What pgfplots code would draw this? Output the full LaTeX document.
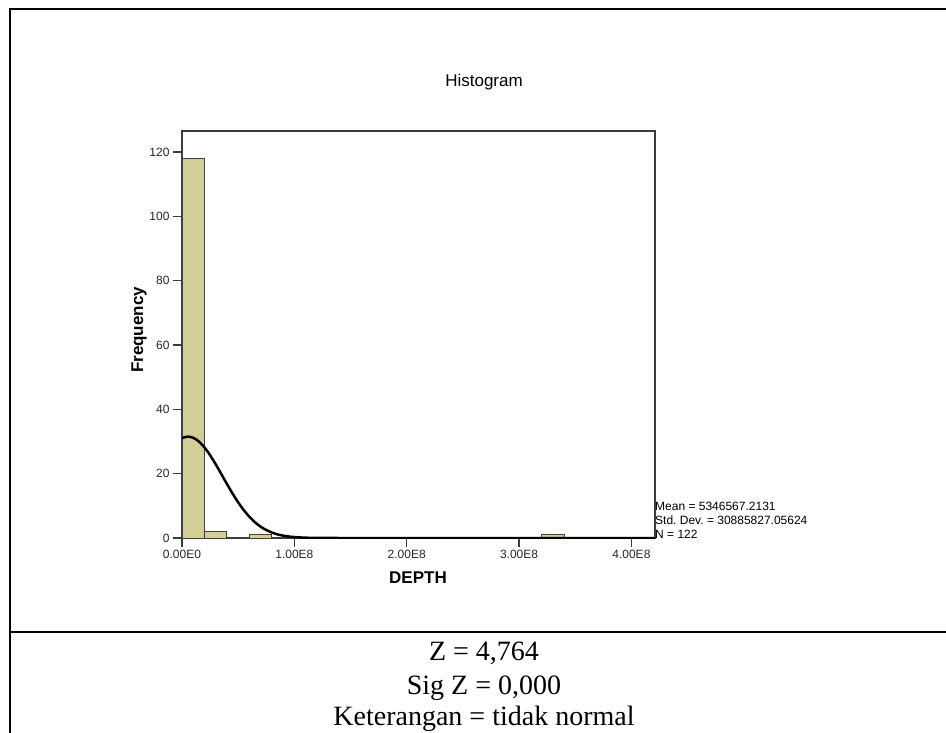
\documentclass[border=0pt]{standalone}
\usepackage{fontspec}
\setmainfont{Liberation Sans}
\newfontfamily\timesfont{Liberation Serif}
\usepackage{pgfplots}
\pgfplotsset{compat=1.18}
\definecolor{barcol}{RGB}{211,206,151}
\definecolor{axiscol}{RGB}{60,60,60}
\frenchspacing

\begin{document}
\begin{tikzpicture}
% page frame in pixel units (1px = 1bp), y runs downwards
\path[use as bounding box] (0,0) rectangle (946bp,-733bp);
\draw[line width=2bp] (10bp,-733bp) -- (10bp,-9bp) -- (946bp,-9bp);
\draw[line width=2bp] (10bp,-632bp) -- (946bp,-632bp);

\begin{axis}[
  at={(182bp,-538bp)}, anchor=south west,
  scale only axis,
  width=473bp, height=407bp,
  xmin=0, xmax=4.21,
  ymin=0, ymax=126.5,
  xtick={0,1,2,3,4},
  xticklabels={0.00E0,1.00E8,2.00E8,3.00E8,4.00E8},
  ytick={0,20,40,60,80,100,120},
  /pgf/number format/assume math mode=true,
  tick align=outside,
  xtick pos=left, ytick pos=left,
  major tick length=9bp,
  tick style={axiscol, line width=1.5bp},
  axis line style={axiscol, line width=2bp},
  ticklabel style={font=\fontsize{12bp}{14bp}\selectfont, text=black!85},
  clip=true,
]
% histogram bins (units of 1E8)
\addplot[ybar interval, fill=barcol, draw=black!75, line width=1bp]
  coordinates {(0,118) (0.2,2) (0.4,0)};
\addplot[ybar interval, fill=barcol, draw=black!75, line width=1bp]
  coordinates {(0.6,1) (0.8,1)};
\addplot[ybar interval, fill=barcol, draw=black!75, line width=1bp]
  coordinates {(3.2,1) (3.4,1)};
% normal curve (mean 5346567, sd 30885827, N=122, bin 2E7)
\addplot[smooth, black, line width=2.5bp] coordinates {
  (0,31.04) (0.05,31.51) (0.1,31.15) (0.15,30.01) (0.2,28.15)
  (0.25,25.73) (0.3,22.91) (0.35,19.87) (0.4,16.79) (0.45,13.82)
  (0.5,11.08) (0.55,8.66) (0.6,6.59) (0.65,4.88) (0.7,3.52)
  (0.75,2.48) (0.8,1.70) (0.85,1.13) (0.9,0.74) (0.95,0.47)
  (1.0,0.29) (1.1,0.10) (1.2,0.03) (1.3,0.01) (1.5,0)
  (2.5,0) (3.5,0) (4.21,0)
};
\end{axis}

\node[font=\fontsize{17bp}{20bp}\selectfont] at (484bp,-82bp) {Histogram};
\node[font=\bfseries\fontsize{17bp}{20bp}\selectfont, rotate=90] at (139bp,-330bp) {Frequency};
\node[font=\bfseries\fontsize{17bp}{20bp}\selectfont] at (418bp,-578bp) {DEPTH};

\begin{scope}[every node/.style={anchor=base west, inner sep=0pt, font=\fontsize{12bp}{14bp}\selectfont}]
\node at (655bp,-510bp) {Mean = 5346567.2131};
\node at (655bp,-524bp) {Std. Dev. = 30885827.05624};
\node at (655bp,-538bp) {N = 122};
\end{scope}

\begin{scope}[every node/.style={anchor=base, inner sep=0pt, font=\timesfont\fontsize{28bp}{32bp}\selectfont}]
\node at (484bp,-660bp) {Z = 4,764};
\node at (484bp,-694bp) {Sig Z = 0,000};
\node at (484bp,-725bp) {Keterangan = tidak normal};
\end{scope}
\end{tikzpicture}
\end{document}
